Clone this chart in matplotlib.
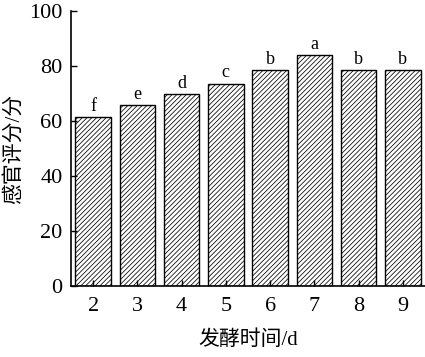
import matplotlib
matplotlib.use("Agg")
import matplotlib.pyplot as plt

days = [2, 3, 4, 5, 6, 7, 8, 9]
scores = [61.5, 65.7, 69.9, 73.6, 78.4, 84.0, 78.4, 78.4]
letters = ["f", "e", "d", "c", "b", "a", "b", "b"]
yticks = [0, 20, 40, 60, 80, 100]

plt.rcParams['font.family'] = ['Liberation Serif', 'Noto Sans CJK SC']
plt.rcParams['hatch.color'] = '#707070'
plt.rcParams['hatch.linewidth'] = 0.55

fig = plt.figure(figsize=(4.25, 3.57), dpi=100)
ax = fig.add_axes([71/425, 1 - 286/357, (425 - 71)/425, (286 - 11)/357])

ax.bar(days, scores, width=0.8, color='white', edgecolor='black', linewidth=1.0, hatch='///////')
for x, y, t in zip(days, scores, letters):
    ax.text(x, y + 0.8, t, ha='center', va='bottom', fontsize=13)

ax.set_xlim(1.5, 9.5)
ax.set_ylim(0, 100)
ax.set_xticks(days)
ax.set_yticks(yticks)
ax.tick_params(direction='in', labelsize=16, length=4, width=1)
ax.tick_params(axis='x', pad=8)
ax.tick_params(axis='y', pad=6)
for s in ['top', 'right']:
    ax.spines[s].set_visible(False)
for s in ['left', 'bottom']:
    ax.spines[s].set_linewidth(1.2)

ax.set_xlabel('发酵时间/d', fontsize=15, labelpad=10)
ax.set_ylabel('感官评分/分', fontsize=15, labelpad=4)

fig.savefig('out.png', dpi=100)
